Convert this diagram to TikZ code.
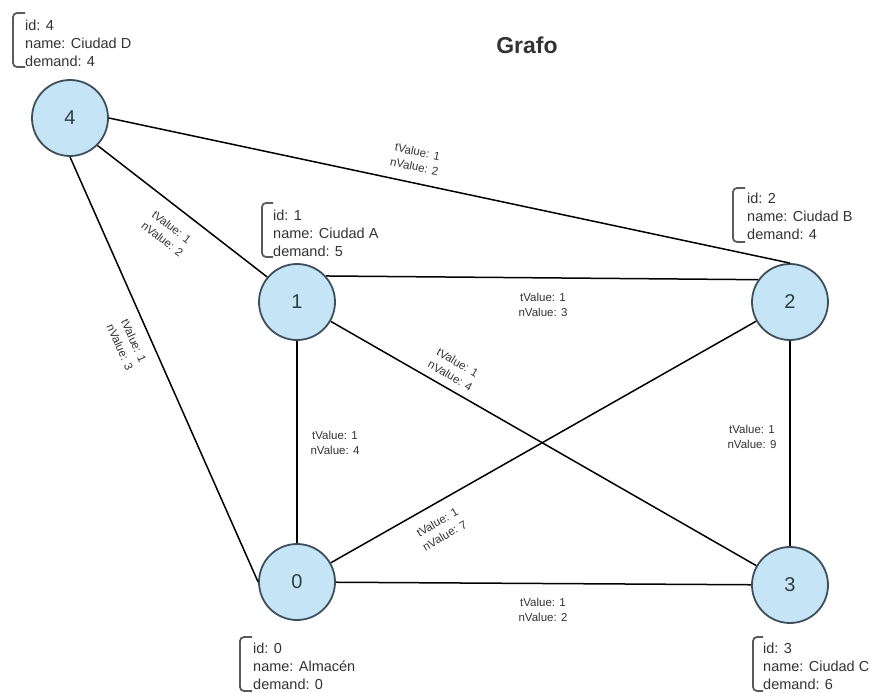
\documentclass[tikz,border=0pt]{standalone}
\usepackage{fontspec}
\setmainfont{Liberation Sans}
\definecolor{nodefill}{HTML}{C5E4F5}
\definecolor{nodeborder}{HTML}{3E4E5A}
\definecolor{numtext}{HTML}{2E3E48}
\definecolor{labeltext}{HTML}{333333}
\definecolor{brackcol}{HTML}{5A5A5A}
\begin{document}
\begin{tikzpicture}[x=1pt,y=-1pt,
  vert/.style={circle, draw=nodeborder, fill=nodefill, line width=1.8pt, minimum size=76pt, inner sep=0pt, font=\fontsize{20}{24}\selectfont, text=numtext},
  edge/.style={line width=1.5pt, draw=black},
  elabel/.style={font=\fontsize{11.5}{15}\selectfont, text=labeltext, align=center, inner sep=0pt},
  info/.style={font=\fontsize{14.5}{18}\selectfont, text=labeltext, align=left, anchor=west, inner sep=0pt},
  brk/.style={draw=brackcol, line width=1.8pt, rounded corners=4pt}]
\useasboundingbox (0,0) rectangle (876,693);
\fill[white] (0,0) rectangle (876,693);

\node[font=\fontsize{23}{27}\selectfont\bfseries, text=labeltext] (title) at (527,45) {Grafo};

\node[vert] (n4) at (70,118) {4};
\node[vert] (n1) at (297,302) {1};
\node[vert] (n2) at (790,302) {2};
\node[vert] (n0) at (297,582) {0};
\node[vert] (n3) at (790,585) {3};

\draw[edge] (n4.east) -- (n2.north);
\draw[edge] (n4.-45) -- (n1.140);
\draw[edge] (n4.south) -- (n0.west);
\draw[edge] (n1.42) -- (n2.145);
\draw[edge] (n1) -- (n3);
\draw[edge] (n1) -- (n0);
\draw[edge] (n0) -- (n2);
\draw[edge] (n0) -- (n3);
\draw[edge] (n2) -- (n3);

\node[elabel, rotate=-12] (l42) at (416,159) {tValue: 1\\nValue: 2};
\node[elabel, rotate=-38] (l41) at (167,233) {tValue: 1\\nValue: 2};
\node[elabel, rotate=-66] (l40) at (127,344) {tValue: 1\\nValue: 3};
\node[elabel] (l12) at (543,305) {tValue: 1\\nValue: 3};
\node[elabel, rotate=-30] (l13) at (454,369) {tValue: 1\\nValue: 4};
\node[elabel] (l10) at (335,443) {tValue: 1\\nValue: 4};
\node[elabel, rotate=30] (l02) at (441,529) {tValue: 1\\nValue: 7};
\node[elabel] (l23) at (752,437) {tValue: 1\\nValue: 9};
\node[elabel] (l03) at (543,610) {tValue: 1\\nValue: 2};

\draw[brk] (25,13) -- (13,13) -- (13,67) -- (25,67);
\node[info] (i4) at (25,43) {id: 4\\name: Ciudad D\\demand: 4};
\draw[brk] (273,203) -- (262,203) -- (262,257) -- (273,257);
\node[info] (i1) at (273,233) {id: 1\\name: Ciudad A\\demand: 5};
\draw[brk] (745,188) -- (733,188) -- (733,242) -- (745,242);
\node[info] (i2) at (747,216) {id: 2\\name: Ciudad B\\demand: 4};
\draw[brk] (252,637) -- (240,637) -- (240,691) -- (252,691);
\node[info] (i0) at (253,666) {id: 0\\name: Almacén\\demand: 0};
\draw[brk] (763,637) -- (753,637) -- (753,691) -- (763,691);
\node[info] (i3) at (763,666) {id: 3\\name: Ciudad C\\demand: 6};
\end{tikzpicture}
\end{document}
